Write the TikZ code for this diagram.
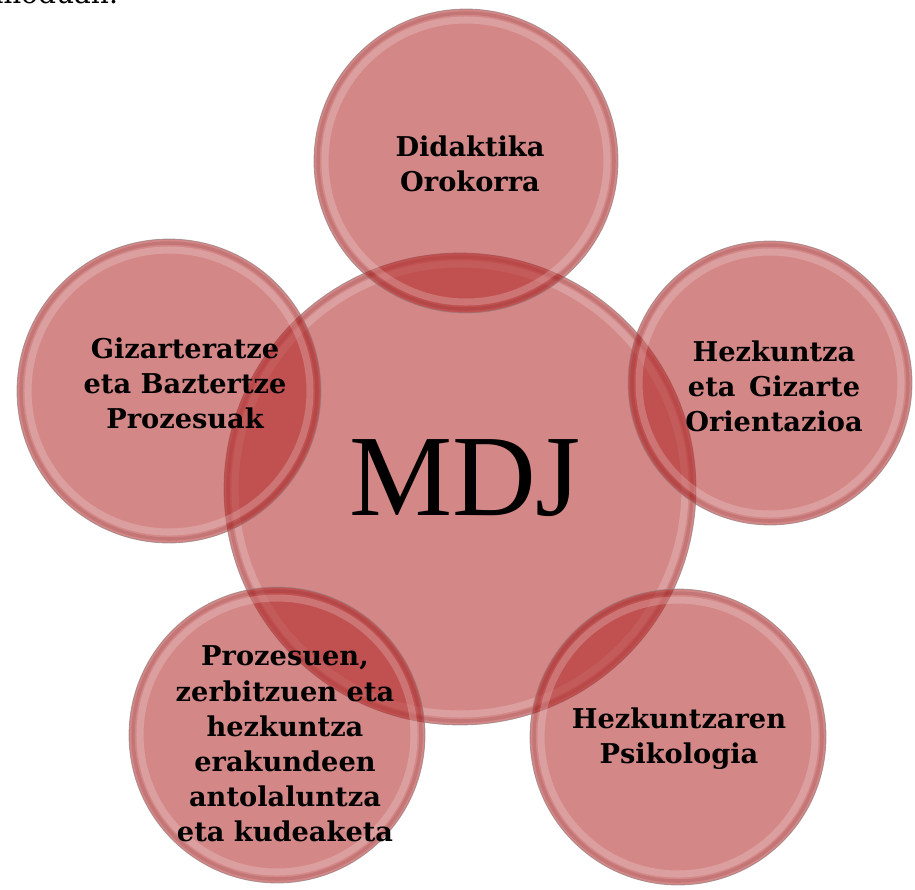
\documentclass[tikz,border=0pt]{standalone}
\usepackage{fontspec}
\setmainfont{DejaVu Serif}
\newfontfamily\timesfont{Liberation Serif}
\definecolor{ballred}{RGB}{177,37,37}
\definecolor{rimgray}{RGB}{150,125,125}

\begin{document}
\begin{tikzpicture}[x=0.02cm,y=-0.02cm,inner sep=0pt,outer sep=0pt,
	ball/.style={circle, minimum size={#1*0.04cm}, fill=ballred, fill opacity=0.55,
		draw=rimgray, draw opacity=0.7, line width=0.5pt,
		path picture={\draw[white, draw opacity=0.2, line width=4pt]
			(path picture bounding box.center) circle ({#1-11});
			\draw[ballred!60!black, draw opacity=0.15, line width=2pt]
			(path picture bounding box.center) circle ({#1-4});}},
	balltext/.style={align=center, text=black, font=\bfseries\fontsize{15.5}{20}\selectfont}]
	\useasboundingbox (0,0) rectangle (915,889);

	% text of the page above, cut off
	\node[anchor=base east, font=\fontsize{16}{18}\selectfont] (above) at (118,4) {moduan.};

	% the circles
	\node[ball=236] at (460,489) (mdj) {};
	\node[ball=152] at (466,161) (did) {};
	\node[ball=152] at (169,391) (giz) {};
	\node[ball=142] at (770,383) (hgo) {};
	\node[ball=148] at (277,735) (pro) {};
	\node[ball=148] at (678,737) (hps) {};

	% the texts
	\node[font=\timesfont\fontsize{66}{70}\selectfont] at ([shift={(5,-11)}]mdj) (mdj-t) {MDJ};
	\node[balltext] at ([shift={(4,3)}]did) (did-t) {Didaktika\\Orokorra};
	\node[balltext] at ([shift={(16,-8)}]giz) (giz-t) {Gizarteratze\\eta Baztertze\\Prozesuak};
	\node[balltext] at ([shift={(4,3)}]hgo) (hgo-t) {Hezkuntza\\eta\enspace Gizarte\\Orientazioa};
	\node[balltext] at ([shift={(8,9)}]pro) (pro-t) {Prozesuen,\\zerbitzuen eta\\hezkuntza\\erakundeen\\antolaluntza\\eta kudeaketa};
	\node[balltext] at ([shift={(1,2)}]hps) (hps-t) {Hezkuntzaren\\Psikologia};
\end{tikzpicture}
\end{document}
